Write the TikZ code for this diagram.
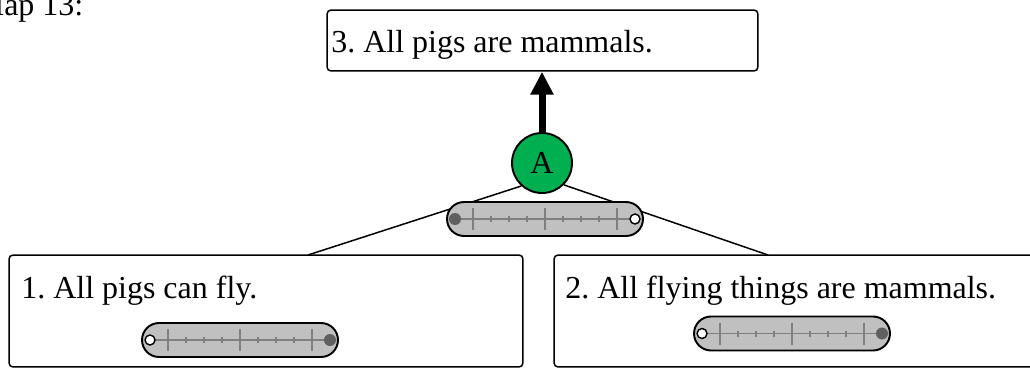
\documentclass[tikz,border=0pt]{standalone}
\usepackage{fontspec}
\setmainfont{Liberation Serif}
\usepackage{tikz}
\usetikzlibrary{arrows.meta, positioning, calc, shapes.misc}
\definecolor{argGreen}{HTML}{00B050}
\definecolor{barGray}{HTML}{C0C0C0}
\definecolor{knobGray}{HTML}{606060}
\definecolor{tickGray}{HTML}{7F7F7F}
\frenchspacing

% slider bar with its scale: name, centre, left end, right end
\newcommand{\gauge}[4]{%
    \node[gaugebar] (#1) at (#2) {};
    \draw[tickline] ([xshift=-1.8cm]#1.center) -- ([xshift=1.8cm]#1.center);
    \foreach \t in {-72,0,72}
        \draw[tickline] ([shift={(\t,-11)}]#1.center) -- ([shift={(\t,11)}]#1.center);
    \foreach \t in {-54,-36,-18,18,36,54}
        \draw[tickline] ([shift={(\t,-3)}]#1.center) -- ([shift={(\t,3)}]#1.center);
    \node[#3] (#1l) at ([xshift=-1.8cm]#1.center) {};
    \node[#4] (#1r) at ([xshift=1.8cm]#1.center) {};
}

\begin{document}
\begin{tikzpicture}[x=0.02cm, y=-0.02cm,
    font=\fontsize{18.2}{22}\selectfont,
    claim/.style={draw, rounded corners=0.08cm, line width=0.85pt, inner sep=0},
    argnode/.style={circle, draw, fill=argGreen, line width=1.1pt, minimum size=1.2cm, inner sep=0},
    gaugebar/.style={rounded rectangle, draw, fill=barGray, line width=1.1pt,
        minimum width=3.92cm, minimum height=0.68cm, inner sep=0},
    tickline/.style={draw=tickGray, line width=0.6pt},
    knob/.style={circle, fill=knobGray, minimum size=0.24cm, inner sep=0},
    hole/.style={circle, draw, fill=white, line width=0.8pt, minimum size=0.2cm, inner sep=0}]
    \useasboundingbox (0,0) rectangle (1030,368);

    % Title
    \node[anchor=base west, inner sep=0] (title) at (-24.5,16) {Map 13:};

    % Claims
    \node[claim, minimum width=8.62cm, minimum height=1.22cm] (c3) at (542.5,40.5) {};
    \node[claim, minimum width=10.28cm, minimum height=2.24cm] (c1) at (266,311) {};
    \node[claim, minimum width=9.72cm, minimum height=2.24cm] (c2) at (797,311) {};
    \node[anchor=base west, inner sep=0] (t3) at (331,53) {3. All pigs are mammals.};
    \node[anchor=base west, inner sep=0] (t1) at (21,298) {1. All pigs can fly.};
    \node[anchor=base west, inner sep=0] (t2) at (565,298) {2. All flying things are mammals.};

    % Argument
    \node[argnode] (A) at (542,163) {A};
    \coordinate (e1) at (308,255);
    \coordinate (e2) at (768,255);
    \draw[line width=0.85pt] (A.228) -- (e1);
    \draw[line width=0.85pt] (A.-45) -- (e2);
    \draw[line width=0.14cm, -{Triangle[width=0.44cm, length=0.46cm]}] (A.north) -- (A.north |- c3.south);

    % Sliders
    \gauge{sl0}{545,219}{knob}{hole}
    \gauge{sl1}{240,340}{hole}{knob}
    \gauge{sl2}{792,333.5}{hole}{knob}
\end{tikzpicture}
\end{document}
